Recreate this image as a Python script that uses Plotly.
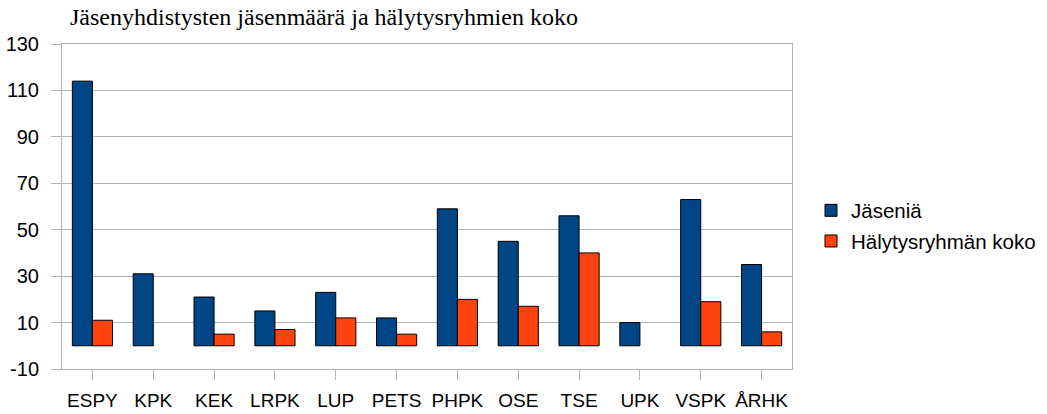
import plotly.graph_objects as go

categories = ["ESPY", "KPK", "KEK", "LRPK", "LUP", "PETS", "PHPK", "OSE", "TSE", "UPK", "VSPK", "ÅRHK"]
jaseniä = [114, 31, 21, 15, 23, 12, 59, 45, 56, 10, 63, 35]
halytysryhma = [11, 0, 5, 7, 12, 5, 20, 17, 40, 0, 19, 6]
y_ticks = [-10, 10, 30, 50, 70, 90, 110, 130]
y_tick_labels = [str(v) for v in y_ticks]


def outline(values):
    return [0 if v == 0 else 1 for v in values]


fig = go.Figure()
fig.add_trace(go.Bar(x=categories, y=jaseniä, name="Jäseniä",
                     marker=dict(color="#004586", line=dict(color="#000000", width=outline(jaseniä))),
                     legendgroup="a"))
fig.add_trace(go.Bar(x=categories, y=halytysryhma, name="Hälytysryhmän koko",
                     marker=dict(color="#ff420e", line=dict(color="#000000", width=outline(halytysryhma))),
                     legendgroup="b"))

fig.update_layout(
    width=1047, height=414,
    margin=dict(l=62, r=255, t=44, b=45, autoexpand=False),
    paper_bgcolor="white", plot_bgcolor="white",
    barmode="group", bargap=0.34, bargroupgap=0,
    title=dict(text="Jäsenyhdistysten jäsenmäärä ja hälytysryhmien koko",
               x=70/1047, xanchor="left", xref="container",
               y=1-17/414, yanchor="middle", yref="container", pad=dict(l=0, r=0, t=0, b=0),
               font=dict(family="Liberation Serif", size=24, color="#000000")),
    font=dict(family="Liberation Sans", size=19, color="#000000"),
    legend=dict(x=811/1047, xref="container", y=1-226/414, yref="container",
                yanchor="middle", xanchor="left",
                font=dict(family="Liberation Sans", size=20.5, color="#000000"),
                traceorder="grouped", tracegroupgap=1, itemwidth=30),
    showlegend=True,
)
fig.update_xaxes(showline=True, linecolor="#b3b3b3", linewidth=1, mirror=True,
                 ticks="outside", ticklen=10, tickcolor="#b3b3b3", automargin=False,
                 showgrid=False, tickfont=dict(size=19), ticklabelstandoff=4)
fig.update_yaxes(range=[-10, 130], tickvals=y_ticks, ticktext=y_tick_labels,
                 showgrid=True, gridcolor="#b3b3b3",
                 showline=True, linecolor="#b3b3b3", linewidth=1, mirror=True,
                 ticks="outside", ticklen=10, tickcolor="#b3b3b3", automargin=False,
                 zeroline=False, tickfont=dict(size=20), ticklabelstandoff=8)

fig.write_html("out.html", config={"displayModeBar": False},
               post_script="document.body.style.margin='0';")
